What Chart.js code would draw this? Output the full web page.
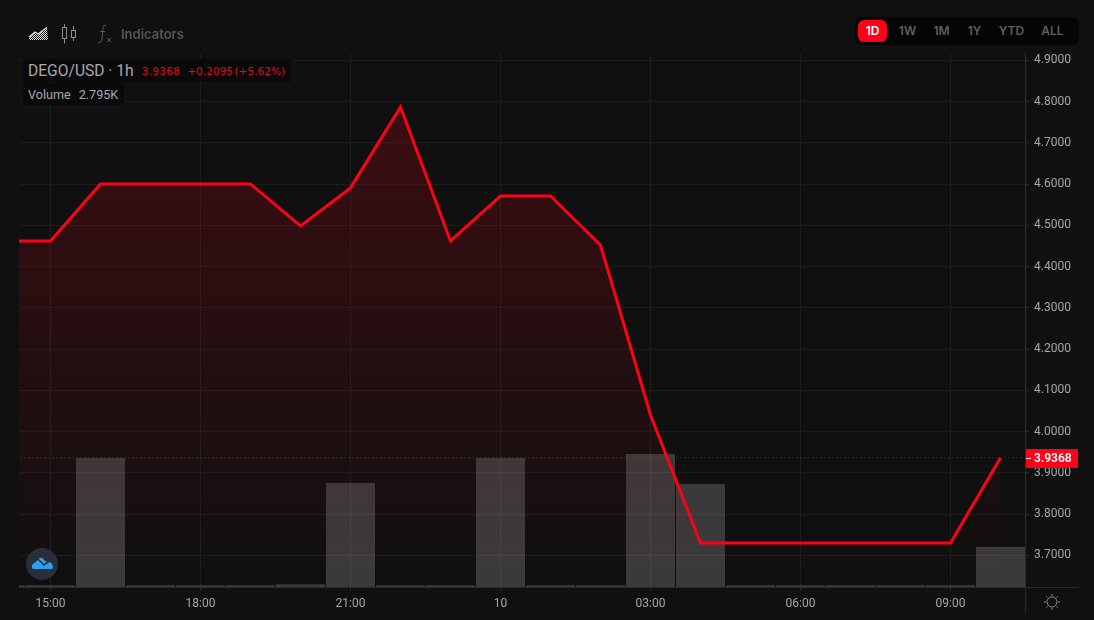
<!DOCTYPE html>
<html>
<head>
<meta charset="utf-8">
<title>DEGO/USD</title>
<script src="https://cdn.jsdelivr.net/npm/chart.js@4"></script>
<style>
    html, body { margin: 0; padding: 0; background: #101010; overflow: hidden; }
    body { width: 1094px; height: 620px; position: relative; font-family: Roboto, sans-serif; }
    canvas { position: absolute; left: 0; top: 0; }
    .legend-row { position: absolute; left: 23px; background: #0a0a0a; white-space: nowrap; display: flex; align-items: center; padding-left: 5px; box-sizing: border-box; }
    #row1 { top: 59px; width: 268px; height: 23px; color: #a6a8ad; font-size: 15.6px; }
    #row1 .red { color: #e0061c; letter-spacing: 0.3px; font-family: "DejaVu Sans", sans-serif; font-size: 10.5px; }
    #row2 { top: 83px; width: 101px; height: 22px; color: #a6a8ad; font-size: 12.6px; }
    #tools { position: absolute; left: 28px; top: 24px; height: 20px; }
    #tools svg { position: absolute; }
    #indicators { position: absolute; left: 93px; top: 2px; color: #565656; font: 600 13px Inter, sans-serif; }
    #ranges { position: absolute; left: 855px; top: 17px; width: 224px; height: 28px; background: #050505; border-radius: 7px; }
    #ranges span { position: absolute; top: 3px; height: 22px; line-height: 22px; text-align: center; color: #5f5f5f; font: 600 12px/22px Inter, sans-serif; }
    #ranges span.on { background: #ff0019; color: #fff; border-radius: 6px; }
    #logo { position: absolute; left: 26px; top: 548px; }
    #sun { position: absolute; left: 1044px; top: 594px; }
</style>
</head>
<body>
<canvas id="chart" width="1094" height="620"></canvas>

<div id="tools">
    <svg style="left:0;top:3px" width="21" height="14" viewBox="0 0 21 14">
        <defs><pattern id="dots" width="2" height="2" patternUnits="userSpaceOnUse"><rect width="1" height="1" fill="#e8e8e8"/><rect x="1" y="1" width="1" height="1" fill="#e8e8e8"/></pattern></defs>
        <path d="M1 13 L1 11 L7 6 L10 8 L19 1 L20 13 Z" fill="url(#dots)"/>
        <path d="M1 10 L7 5 L10 7 L19 0.5" fill="none" stroke="#e8e8e8" stroke-width="1.2"/>
    </svg>
    <svg style="left:33px;top:0" width="16" height="20" viewBox="0 0 16 20" fill="none" stroke="#8c8c8c" stroke-width="1">
        <rect x="1.5" y="3.5" width="4" height="11"/><path d="M3.5 0v3.5M3.5 14.5v5"/>
        <rect x="10.5" y="6.5" width="4" height="7"/><path d="M12.5 2v4.5M12.5 13.5v3.5"/>
    </svg>
    <svg style="left:69px;top:0" width="16" height="20" viewBox="0 0 16 20" fill="none" stroke="#5c5c5c" stroke-width="1">
        <path d="M9 1.5C6 0.5 6 3 5.8 6L5 15C4.8 18 3 19 1 18"/><path d="M3 7.5h5"/><path d="M10 14l4 4M14 14l-4 4"/>
    </svg>
    <div id="indicators">Indicators</div>
</div>

<div id="ranges"></div>

<div id="row1" class="legend-row">
    <span>DEGO/USD&nbsp;·&nbsp;1h</span>
    <span class="red" style="margin-left:8px">3.9368</span>
    <span class="red" style="margin-left:7px;letter-spacing:0.05px;word-spacing:-2px">+0.2095 (+5.62%)</span>
</div>
<div id="row2" class="legend-row">
    <span>Volume</span><span style="margin-left:8px">2.795K</span>
</div>

<svg id="logo" width="32" height="32" viewBox="0 0 32 32">
    <circle cx="16" cy="16" r="16" fill="#2a2e39"/>
    <path d="M6 20 C5 15 9 13 11 13 C13 8 17 10 18 12 L21 14 C25 13 27 17 27 20 Q27 21 25 21 L8 21 Q6 21 6 20 Z" fill="#2aa0ee"/>
    <path d="M6 16 L12 11 L18 17 L25 12" fill="none" stroke="#2a2e39" stroke-width="1.6"/>
</svg>

<svg id="sun" width="16" height="16" viewBox="0 0 16 16" fill="none" stroke="#8a8a8a" stroke-width="1">
    <circle cx="8" cy="8" r="5"/>
    <path d="M8 0v2M8 14v2M0 8h2M14 8h2M2.3 2.3l1.4 1.4M12.3 12.3l1.4 1.4M2.3 13.7l1.4-1.4M12.3 3.7l1.4-1.4"/>
</svg>

<script>
"use strict";
// hourly closes from 14:00 on the 9th to 10:00 on the 10th
const hourLabels = ['14:00', '15:00', '16:00', '17:00', '18:00', '19:00', '20:00', '21:00', '22:00', '23:00', '10',
    '01:00', '02:00', '03:00', '04:00', '05:00', '06:00', '07:00', '08:00', '09:00', '10:00'];
const closes = [4.4624, 4.4624, 4.6006, 4.6006, 4.6006, 4.6006, 4.4988, 4.5910, 4.7870, 4.4624, 4.5715,
    4.5715, 4.4527, 4.0406, 3.7300, 3.7300, 3.7300, 3.7300, 3.7300, 3.7300, 3.9368];
const volumes = [130, 130, 9010, 130, 130, 130, 190, 7270, 130, 130, 9010,
    130, 130, 9290, 7200, 130, 130, 130, 130, 130, 2795];
const priceTicks = [3.7, 3.8, 3.9, 4.0, 4.1, 4.2, 4.3, 4.4, 4.5, 4.6, 4.7, 4.8, 4.9];
const hourTicks = [1, 4, 7, 10, 13, 16, 19];
const lastPrice = 3.9368;
const rangeNames = ['1D', '1W', '1M', '1Y', 'YTD', 'ALL'];

// range buttons
const rangeBox = document.getElementById('ranges');
const rangeLefts = [3, 38, 72, 106, 140, 181];
const rangeWidths = [29, 29, 29, 27, 33, 33];
rangeNames.forEach((name, i) => {
    const el = document.createElement('span');
    el.textContent = name;
    el.style.left = rangeLefts[i] + 'px';
    el.style.width = rangeWidths[i] + 'px';
    if (i === 0) el.className = 'on';
    rangeBox.appendChild(el);
});

// axis border, tick marks and last price tag
const chromePlugin = {
    id: 'chrome',
    afterDraw(chart) {
        const { ctx, chartArea: a, scales: { y } } = chart;
        ctx.save();
        ctx.strokeStyle = '#2b2b2b';
        ctx.lineWidth = 1;
        ctx.beginPath();
        ctx.moveTo(a.right + 0.5, a.top);
        ctx.lineTo(a.right + 0.5, 613);
        ctx.moveTo(a.left, a.bottom + 0.5);
        ctx.lineTo(1079, a.bottom + 0.5);
        ctx.stroke();

        const py = Math.round(y.getPixelForValue(lastPrice));
        ctx.fillStyle = '#ff0019';
        ctx.fillRect(a.right + 1, py - 9, 52, 19);
        ctx.fillStyle = '#fff';
        ctx.fillRect(a.right + 1, py, 5, 1);
        ctx.font = '600 12px Roboto, sans-serif';
        ctx.textBaseline = 'middle';
        ctx.fillText(lastPrice.toFixed(4), a.right + 9, py + 1);
        ctx.restore();
    }
};

new Chart(document.getElementById('chart').getContext('2d'), {
    data: {
        datasets: [
            {
                type: 'line',
                label: 'DEGO/USD',
                data: closes.map((c, i) => ({ x: i, y: c })),
                yAxisID: 'y',
                order: 1,
                borderColor: '#ff0019',
                borderWidth: 3,
                borderJoinStyle: 'miter',
                pointRadius: 0,
                tension: 0,
                fill: 'start',
                backgroundColor(context) {
                    const area = context.chart.chartArea;
                    if (!area) return 'rgba(255,0,25,0.18)';
                    const g = context.chart.ctx.createLinearGradient(0, context.chart.scales.y.getPixelForValue(4.787), 0, area.bottom);
                    g.addColorStop(0, 'rgba(255,0,25,0.18)');
                    g.addColorStop(1, 'rgba(255,0,25,0)');
                    return g;
                }
            },
            {
                type: 'line',
                label: 'Last price',
                data: [{ x: 0, y: lastPrice }, { x: 20.49, y: lastPrice }],
                yAxisID: 'y',
                order: 0,
                borderColor: 'rgba(255,60,70,0.55)',
                borderWidth: 1,
                borderDash: [1, 3],
                pointRadius: 0,
                fill: false
            },
            {
                type: 'bar',
                label: 'Volume',
                data: volumes.map((v, i) => ({ x: i, y: v })),
                yAxisID: 'vol',
                order: 2,
                backgroundColor: 'rgba(255,255,255,0.176)',
                barPercentage: 0.98,
                categoryPercentage: 1
            }
        ]
    },
    options: {
        responsive: false,
        animation: false,
        events: [],
        layout: { padding: { left: 19, top: 53, right: 15, bottom: 7 } },
        plugins: { legend: { display: false }, tooltip: { enabled: false } },
        scales: {
            x: {
                type: 'linear',
                offset: false,
                min: 0.37,
                max: 20.49,
                afterBuildTicks(scale) { scale.ticks = hourTicks.map(v => ({ value: v })); },
                afterFit(scale) { scale.height = 26; },
                grid: { offset: false, color: '#1d1d1d', tickColor: '#2b2b2b', tickLength: 4, drawTicks: true },
                border: { display: false },
                ticks: {
                    color: '#a3a6ab',
                    font: { family: 'Roboto', size: 12 },
                    padding: 6,
                    maxRotation: 0,
                    autoSkip: false,
                    callback: value => hourLabels[value]
                }
            },
            y: {
                position: 'right',
                min: 3.6236,
                max: 4.918,
                afterBuildTicks(scale) { scale.ticks = priceTicks.map(v => ({ value: v })); },
                afterFit(scale) { scale.width = 54; },
                grid: { color: '#1d1d1d', tickColor: '#2b2b2b', tickLength: 4 },
                border: { display: false },
                ticks: {
                    color: '#a3a6ab',
                    font: { family: 'Roboto', size: 12 },
                    padding: 5,
                    autoSkip: false,
                    callback: value => value.toFixed(4)
                }
            },
            vol: {
                display: false,
                min: 0,
                max: 37300
            }
        }
    },
    plugins: [chromePlugin]
});
</script>
</body>
</html>
